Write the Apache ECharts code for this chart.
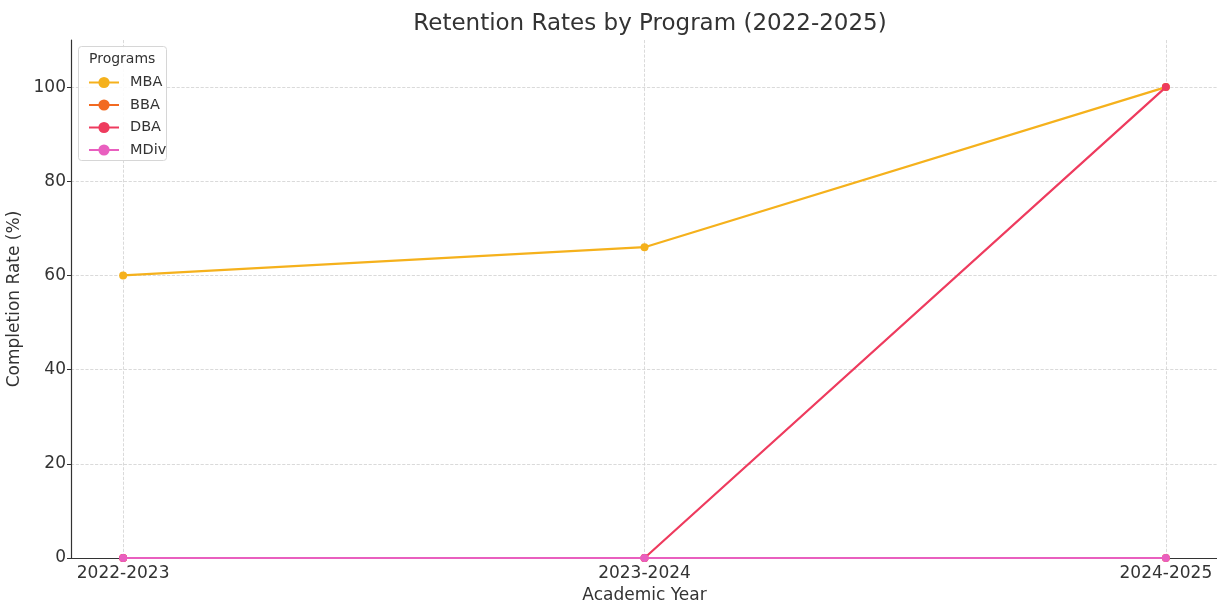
<!DOCTYPE html>
<html>
<head>
<meta charset="utf-8">
<script src="https://cdn.jsdelivr.net/npm/echarts@6/dist/echarts.min.js"></script>
<style>
html,body{margin:0;padding:0;background:#fff;}
#main{width:1217px;height:601px;}
</style>
</head>
<body>
<div id="main"></div>
<script>
const years=['2022-2023','2023-2024','2024-2025'];
const mba=[60,66,100];
const bba=[0,0,0];
const dba=[0,0,100];
const mdiv=[0,0,0];
const programs=['MBA','BBA','DBA','MDiv'];
const colors=['#f5b11c','#f26a21','#ee3b5e','#e95fbf'];
const yTicks=[0,20,40,60,80,100];

let chart=echarts.init(document.getElementById('main'));
let font='DejaVu Sans';
let seriesData=[mba,bba,dba,mdiv];
let option={
	animation:false,
	textStyle:{fontFamily:font},
	title:{
		text:'Retention Rates by Program (2022-2025)',
		left:645,
		textAlign:'center',
		top:8,
		textStyle:{fontFamily:font,fontSize:23,fontWeight:'normal',color:'#333'}
	},
	grid:{left:71,right:-1,top:40,bottom:43,containLabel:false,outerBoundsMode:'none'},
	legend:{
		data:programs,
		orient:'vertical',
		left:83,
		top:70,
		itemGap:7.5,
		itemWidth:30,
		itemHeight:14,
		z:10,
		textStyle:{fontFamily:font,fontSize:14.5,color:'#333',padding:[0,0,0,6]}
	},
	graphic:[
		{type:'rect',left:78,top:46,shape:{width:88,height:114,r:3},style:{fill:'rgba(255,255,255,0.9)',stroke:'#d6d6d6',lineWidth:1},z:1},
		{type:'text',left:89,top:52,style:{text:'Programs',font:'14px "DejaVu Sans"',fill:'#333'},z:11}
	],
	xAxis:{
		type:'value',
		min:-0.1,max:2.1,
		name:'Academic Year',
		nameLocation:'middle',
		nameGap:29,
		nameTextStyle:{fontFamily:font,fontSize:17,color:'#333'},
		axisLine:{onZero:false,lineStyle:{color:'#333',width:1.2}},
		axisTick:{show:true,customValues:[0,1,2],length:4,lineStyle:{color:'#333'}},
		axisLabel:{customValues:[0,1,2],fontFamily:font,fontSize:17,color:'#333',margin:7,
			formatter:v=>years[Math.round(v)]},
		splitLine:{show:true,lineStyle:{color:'#d0d0d0',type:'dashed',width:0.8}}
	},
	yAxis:{
		type:'value',
		min:0,max:110,
		name:'Completion Rate (%)',
		nameLocation:'middle',
		nameGap:45,
		nameTextStyle:{fontFamily:font,fontSize:17,color:'#333'},
		axisLine:{show:true,onZero:false,lineStyle:{color:'#333',width:1.2}},
		axisTick:{show:true,customValues:yTicks,length:4,lineStyle:{color:'#333'}},
		axisLabel:{customValues:yTicks,fontFamily:font,fontSize:17,color:'#333',margin:5},
		splitLine:{show:true,lineStyle:{color:'#d0d0d0',type:'dashed',width:0.8}}
	},
	series:programs.map((p,k)=>({
		name:p,
		type:'line',
		data:seriesData[k].map((v,i)=>[i,v]),
		symbol:'circle',
		symbolSize:8,
		clip:false,
		lineStyle:{width:2.2,color:colors[k]},
		itemStyle:{color:colors[k]},
		z:2+k
	}))
};
chart.setOption(option);
</script>
</body>
</html>
